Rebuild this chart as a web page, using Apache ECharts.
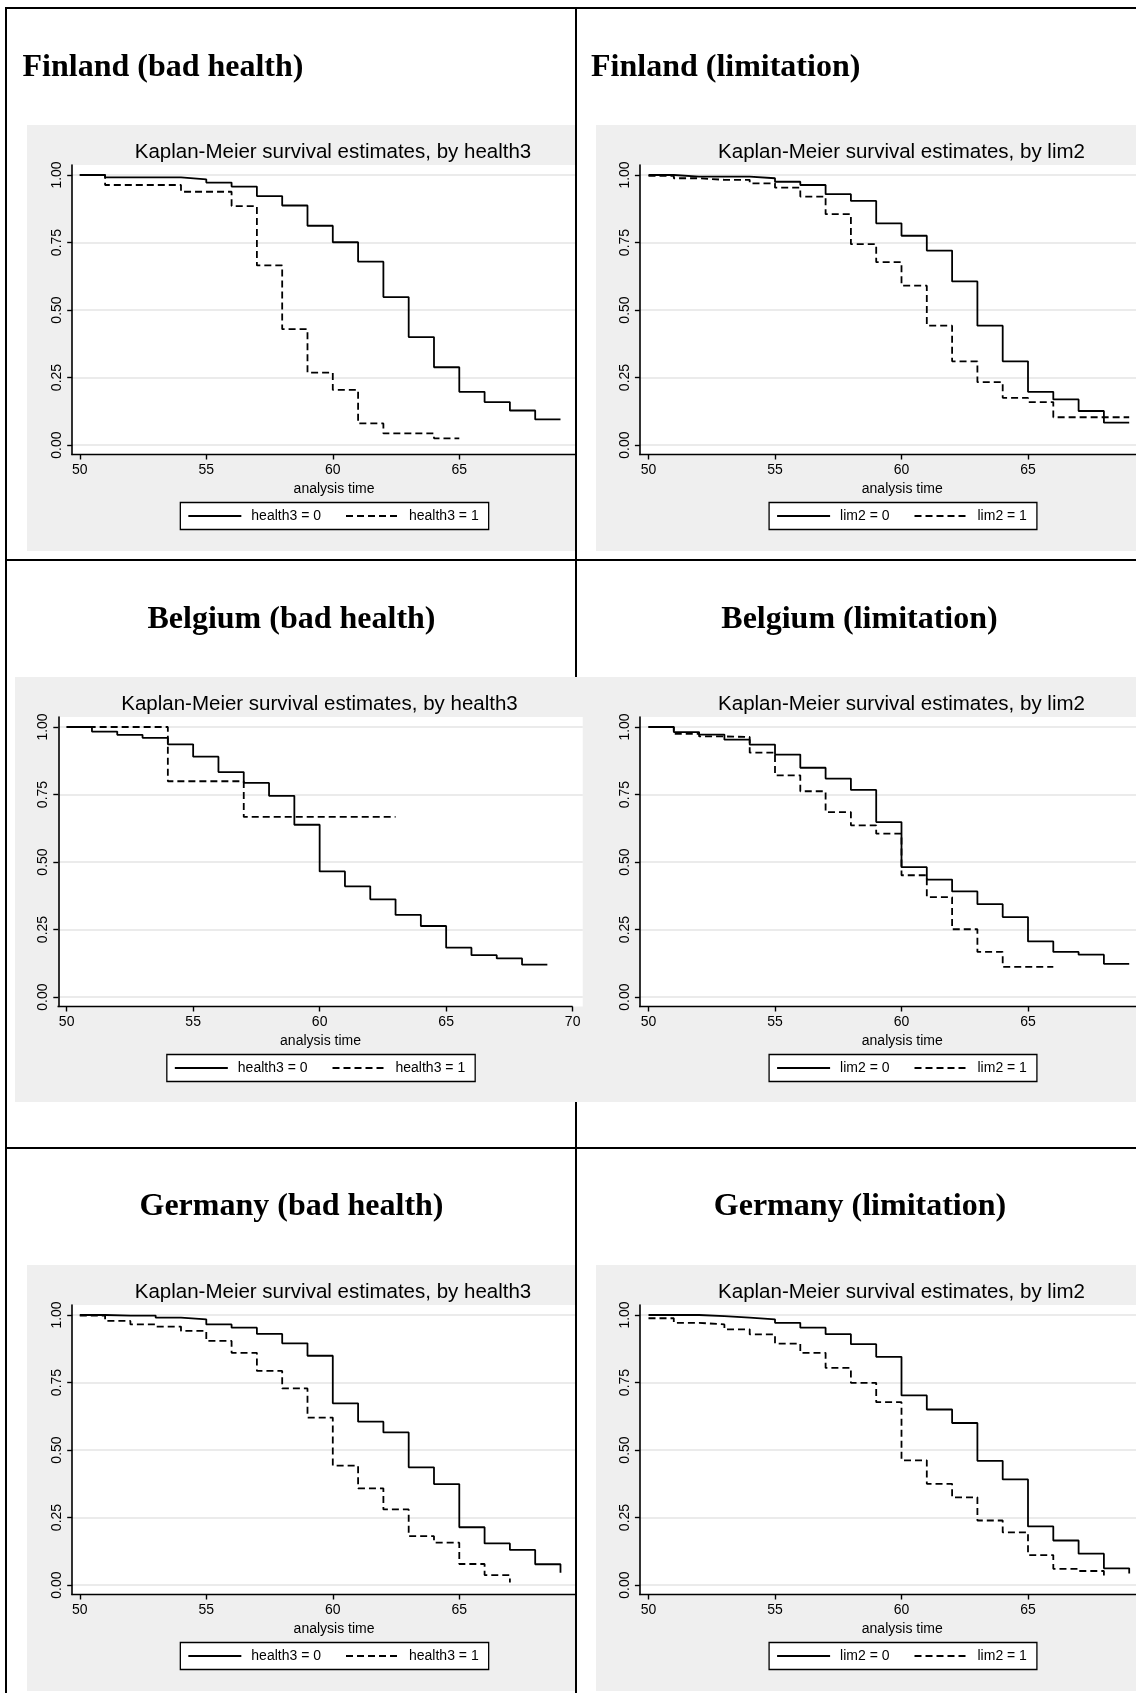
<!DOCTYPE html>
<html>
<head>
<meta charset="utf-8">
<script src="https://cdn.jsdelivr.net/npm/echarts@6/dist/echarts.min.js"></script>
<style>
html,body{margin:0;padding:0;background:#fff;}
#page{position:relative;width:1136px;height:1693px;overflow:hidden;background:#fff;}
#bg{position:absolute;left:0;top:0;width:1136px;height:1693px;}
.panel{position:absolute;overflow:hidden;background:#efefef;}
.panel .chart{position:absolute;left:0;top:0;}
</style>
</head>
<body>
<div id="page"><div id="bg"></div></div>
<script>
// ---------------- DATA (survival estimates at each year, starting at START_YEAR) ----------------
const START_YEAR = 50;
const X_AXIS_END = 70;
const xTicks = [50, 55, 60, 65, 70];
const yTicks = [0, 0.25, 0.5, 0.75, 1];

// Finland
const fiHealth0 = [1.000,0.991,0.991,0.991,0.984,0.972,0.957,0.922,0.887,0.812,0.751,0.679,0.548,0.400,0.288,0.197,0.159,0.128,0.095,0.095];
const fiHealth1 = [1.000,0.963,0.963,0.963,0.938,0.938,0.885,0.665,0.429,0.268,0.204,0.080,0.043,0.043,0.025,0.025];
const fiLim0    = [1.000,0.994,0.994,0.994,0.988,0.975,0.963,0.929,0.904,0.821,0.775,0.720,0.606,0.442,0.310,0.197,0.169,0.126,0.083,0.083];
const fiLim1    = [0.997,0.988,0.982,0.982,0.969,0.953,0.920,0.855,0.744,0.677,0.590,0.442,0.310,0.233,0.175,0.159,0.103,0.103,0.103,0.103];
// Belgium
const beHealth0 = [1.000,0.983,0.971,0.960,0.936,0.890,0.833,0.793,0.745,0.638,0.465,0.410,0.362,0.304,0.263,0.183,0.155,0.143,0.120,0.120];
const beHealth1 = [1.000,1.000,1.000,1.000,0.799,0.799,0.799,0.667,0.667,0.667,0.667,0.667,0.667,0.667];
const beLim0    = [1.000,0.981,0.972,0.953,0.935,0.898,0.849,0.809,0.767,0.648,0.481,0.435,0.391,0.344,0.296,0.206,0.167,0.157,0.123,0.123];
const beLim1    = [1.000,0.975,0.965,0.963,0.905,0.821,0.762,0.685,0.636,0.605,0.451,0.370,0.251,0.167,0.112,0.112,0.112];
// Germany
const deHealth0 = [1.000,0.998,0.998,0.990,0.984,0.965,0.953,0.930,0.895,0.849,0.673,0.605,0.565,0.436,0.374,0.214,0.154,0.130,0.077,0.046];
const deHealth1 = [0.998,0.978,0.965,0.957,0.941,0.904,0.860,0.793,0.728,0.620,0.442,0.358,0.280,0.181,0.157,0.078,0.037,0.009];
const deLim0    = [1.000,1.000,0.996,0.990,0.984,0.971,0.953,0.929,0.892,0.845,0.702,0.650,0.600,0.460,0.391,0.217,0.165,0.116,0.062,0.043];
const deLim1    = [0.988,0.971,0.965,0.947,0.928,0.894,0.860,0.804,0.749,0.677,0.462,0.375,0.325,0.239,0.195,0.111,0.060,0.052,0.035];

const headings = ['Finland (bad health)','Finland (limitation)','Belgium (bad health)','Belgium (limitation)','Germany (bad health)','Germany (limitation)'];
const plotTitles = ['Kaplan-Meier survival estimates, by health3','Kaplan-Meier survival estimates, by lim2'];
const legendHealth = ['health3 = 0','health3 = 1'];
const legendLim = ['lim2 = 0','lim2 = 1'];
const xAxisName = 'analysis time';

// ---------------- LAYOUT ----------------
const PX_PER_YEAR = 25.3;
const X_MAX = 70.4;
const Y_MIN = -0.035, Y_MAX = 1.037;
const GRID_TOP = 40, GRID_H = 289.5;
const LINE_W = 1.8;
const SANS = '"Liberation Sans", Arial, sans-serif';
const SERIF = '"Liberation Serif", "Times New Roman", serif';

const panels = [
  {box:[27,125,548,426],  gridLeft:45.2, xMin:49.7,  title:plotTitles[0], names:legendHealth, s0:fiHealth0, s1:fiHealth1},
  {box:[596,125,540,426], gridLeft:43.9, xMin:49.66, title:plotTitles[1], names:legendLim,    s0:fiLim0,    s1:fiLim1},
  {box:[15,677,581,425],  gridLeft:43.3, xMin:49.67, title:plotTitles[0], names:legendHealth, s0:beHealth0, s1:beHealth1},
  {box:[596,677,540,425], gridLeft:43.9, xMin:49.66, title:plotTitles[1], names:legendLim,    s0:beLim0,    s1:beLim1},
  {box:[27,1265,548,426], gridLeft:45.2, xMin:49.7,  title:plotTitles[0], names:legendHealth, s0:deHealth0, s1:deHealth1},
  {box:[596,1265,540,426],gridLeft:43.9, xMin:49.66, title:plotTitles[1], names:legendLim,    s0:deLim0,    s1:deLim1}
];

// ---------------- BACKGROUND (table lines + headings) ----------------
const bg = echarts.init(document.getElementById('bg'), null, {renderer:'canvas'});
const lineEl = (x1,y1,x2,y2) => ({type:'line', shape:{x1,y1,x2,y2}, style:{stroke:'#000', lineWidth:2}, silent:true});
const headEl = (txt,x,y,align) => ({type:'text', x, y, style:{text:txt, font:'bold 32px ' + SERIF, fill:'#000', align:align, verticalAlign:'middle'}, silent:true});
bg.setOption({
  animation:false,
  graphic:[
    lineEl(5,8,1136,8),
    lineEl(6,7,6,1693),
    lineEl(576,8,576,677),
    lineEl(576,1102,576,1693),
    lineEl(6,560,1136,560),
    lineEl(6,1148,1136,1148),
    headEl(headings[0],22.5,67.5,'left'),
    headEl(headings[1],591,67.5,'left'),
    headEl(headings[2],291.5,620,'center'),
    headEl(headings[3],859.5,620,'center'),
    headEl(headings[4],291.5,1206.5,'center'),
    headEl(headings[5],860,1206.5,'center')
  ]
});

// ---------------- PANELS ----------------
const page = document.getElementById('page');
const toPoints = vals => vals.map((v,i) => [START_YEAR + i, v]);

panels.forEach((p) => {
  const outer = document.createElement('div');
  outer.className = 'panel';
  outer.style.left = p.box[0] + 'px';
  outer.style.top = p.box[1] + 'px';
  outer.style.width = p.box[2] + 'px';
  outer.style.height = p.box[3] + 'px';
  const inner = document.createElement('div');
  inner.className = 'chart';
  const center = p.gridLeft + (60 - p.xMin) * PX_PER_YEAR;
  const cw = Math.round(center * 2);
  inner.style.width = cw + 'px';
  inner.style.height = p.box[3] + 'px';
  outer.appendChild(inner);
  page.appendChild(outer);

  const chart = echarts.init(inner, null, {renderer:'canvas'});
  const lineBase = {type:'line', step:'end', symbol:'none', showSymbol:false, silent:true, animation:false, z:3};
  chart.setOption({
    animation:false,
    backgroundColor:'transparent',
    textStyle:{fontFamily:SANS, color:'#000'},
    title:{
      text:p.title, left:'center', top:15.3, padding:0,
      textStyle:{fontSize:20.5, fontWeight:'normal', fontFamily:SANS, color:'#000', lineHeight:24}
    },
    legend:{
      data:p.names, left:'center', top:377.5, orient:'horizontal',
      itemWidth:53, itemHeight:14, itemGap:24,
      padding:[6.5,10,6.5,7],
      borderColor:'#000', borderWidth:1.3, backgroundColor:'#fff',
      itemStyle:{color:'rgba(0,0,0,0)', borderColor:'rgba(0,0,0,0)', borderWidth:0, opacity:0},
      textStyle:{fontSize:14, fontFamily:SANS, color:'#000', padding:[0,0,0,5]},
      selectedMode:false
    },
    grid:{
      left:p.gridLeft, top:GRID_TOP, height:GRID_H,
      width:(X_MAX - p.xMin) * PX_PER_YEAR,
      show:true, backgroundColor:'#fff', borderWidth:0, containLabel:false
    },
    xAxis:{
      type:'value', min:p.xMin, max:X_MAX,
      name:xAxisName, nameLocation:'middle', nameGap:24,
      nameTextStyle:{fontSize:14, fontFamily:SANS, color:'#000'},
      axisLine:{show:false, onZero:false},
      axisTick:{show:true, length:5, customValues:xTicks, lineStyle:{color:'#000', width:1.4}},
      axisLabel:{show:true, customValues:xTicks, fontSize:14, margin:9, color:'#000', fontFamily:SANS},
      splitLine:{show:false}
    },
    yAxis:{
      type:'value', min:Y_MIN, max:Y_MAX,
      axisLine:{show:true, onZero:false, lineStyle:{color:'#000', width:1.6}},
      axisTick:{show:true, length:5, customValues:yTicks, lineStyle:{color:'#000', width:1.4}},
      axisLabel:{show:true, customValues:yTicks, rotate:90, fontSize:14, margin:8, color:'#000', fontFamily:SANS,
                 formatter:(v) => v.toFixed(2)},
      splitLine:{show:true, lineStyle:{color:'#e4e4e4', width:1.5}}
    },
    series:[
      Object.assign({}, lineBase, {name:p.names[0], data:toPoints(p.s0),
        lineStyle:{color:'#000', width:LINE_W, type:'solid'}, itemStyle:{color:'#000'}}),
      Object.assign({}, lineBase, {name:p.names[1], data:toPoints(p.s1),
        lineStyle:{color:'#000', width:LINE_W, type:[7,4]}, itemStyle:{color:'#000'}})
    ]
  });
  // x axis line: from the left edge of the plot region to the last scale value (as Stata draws it)
  const a = chart.convertToPixel({gridIndex:0}, [p.xMin, Y_MIN]);
  const b = chart.convertToPixel({gridIndex:0}, [X_AXIS_END, Y_MIN]);
  chart.setOption({
    graphic:[{type:'line', z:10, silent:true,
      shape:{x1:a[0] - 0.8, y1:a[1], x2:b[0], y2:b[1]},
      style:{stroke:'#000', lineWidth:1.6}}]
  });
});
</script>
</body>
</html>
